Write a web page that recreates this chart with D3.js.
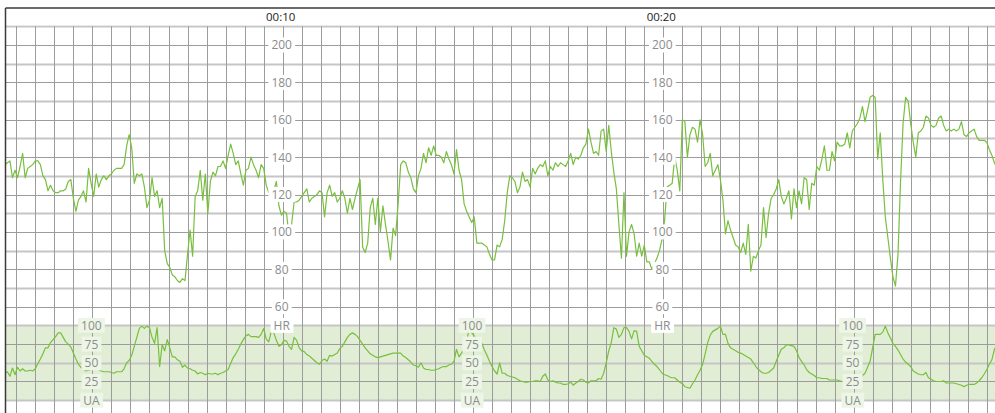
<!DOCTYPE html>
<html><head><meta charset="utf-8">
<script src="https://cdn.jsdelivr.net/npm/d3@7"></script>
<style>body{margin:0;background:#fff;} svg{display:block;font-family:"Open Sans",sans-serif;}</style>
</head><body><svg id="c" width="995" height="413"></svg>
<script>
// sample times: seconds from 00:00, one sample every 4 s
const startSec = 162, stepSec = 4;
const fhr = [
136,137,138,129,133,129,135,142,129,134,
135,136,138,138,136,130,128,122,125,122,
121,121,122,122,123,127,128,118,111,117,
119,122,116,134,126,119,131,124,128,130,
128,130,131,133,134,134,134,136,146,152,
145,126,131,130,131,124,113,117,129,119,
122,113,118,90,83,81,77,76,74,73,
75,74,88,101,87,119,122,133,117,131,
110,127,132,130,135,135,138,134,141,147,
142,136,138,131,125,133,134,140,136,133,
129,136,134,125,121,123,122,127,114,109,
111,110,98,104,116,116,117,119,121,123,
116,118,119,120,122,121,108,121,125,119,
121,116,118,122,118,110,118,112,118,123,
128,92,89,94,113,118,104,118,100,114,
104,95,85,102,98,115,136,138,137,132,
129,123,121,130,134,142,137,145,141,146,
141,141,140,137,143,139,136,131,144,133,
128,115,111,108,105,108,94,94,94,93,
92,88,85,85,93,92,96,106,121,130,
129,127,121,124,132,127,128,124,134,131,
134,136,135,138,130,135,133,137,135,137,
136,135,138,142,136,140,139,141,145,147,
155,148,142,143,141,154,155,143,157,143,
132,123,104,86,121,87,100,104,99,87,
94,87,93,84,84,80,83,86,90,96,
106,124,125,126,140,133,122,160,159,140,
152,156,155,148,160,152,135,137,142,130,
133,136,128,117,99,106,101,97,93,92,
89,94,88,104,79,87,86,90,93,113,
97,110,118,120,123,128,119,115,118,122,
107,123,113,122,115,129,128,112,126,125,
135,133,139,146,133,133,143,138,148,146,
146,147,153,145,154,156,158,161,167,159,
165,172,173,172,139,153,128,108,97,86,
76,71,88,127,158,172,170,158,148,140,
153,154,156,162,161,157,156,157,161,162,
157,154,155,154,155,154,155,159,152,151,
153,154,155,151,149,149,149,148,144,141,
137,134
];
const ua = [
36,38,32,43,34,44,39,42,39,39,
40,39,42,49,55,62,70,70,77,81,
85,90,90,84,78,75,71,63,55,48,
44,41,39,40,41,41,41,41,39,38,
38,38,37,36,38,38,38,42,50,53,
60,72,84,96,99,96,99,97,84,76,
97,45,74,66,81,70,58,58,54,52,
44,47,43,42,40,39,35,37,36,34,
36,35,35,36,34,36,37,39,41,49,
57,62,68,75,81,86,88,85,85,85,
84,88,96,82,78,92,90,80,72,74,
80,79,72,68,84,80,70,66,65,61,
59,56,53,50,48,53,55,52,60,59,
61,63,69,72,78,84,88,90,88,85,
80,75,70,66,62,60,58,57,58,59,
60,61,62,63,63,63,63,59,57,54,
51,47,46,44,50,43,41,41,40,40,
41,42,44,45,45,47,48,52,68,58,
63,70,78,96,90,86,82,79,76,67,
60,52,45,39,35,50,36,36,33,32,
31,30,28,26,25,24,24,25,25,26,
26,25,32,35,27,25,26,24,23,23,
21,21,22,24,20,23,25,28,27,24,
23,26,26,26,29,28,36,50,66,77,
97,95,84,88,97,97,92,82,93,92,
72,66,60,58,56,52,48,45,41,36,
34,33,31,30,30,27,24,22,18,17,
16,22,27,34,40,48,62,77,87,92,
94,96,99,88,88,76,70,68,66,64,
63,61,59,57,55,50,45,41,38,36,
36,37,40,43,52,60,68,70,74,74,
73,72,66,57,52,47,41,37,35,33,
30,30,29,29,29,27,27,27,27,26,
25,25,24,25,25,26,27,29,33,36,
44,52,70,88,88,88,91,99,90,83,
76,72,67,61,55,51,48,45,39,37,
35,34,34,37,30,28,26,25,25,25,
26,23,23,23,23,22,21,20,18,20,
21,21,21,23,26,30,35,41,48,54,
68,74
];
const timeTickSecs = [600, 1200];
const timeTickLabels = ["00:10", "00:20"];
const hrTicks = [200, 180, 160, 140, 120, 100, 80, 60];
const hrAxisSecs = [600, 1200];
const uaTicks = [100, 75, 50, 25];
const uaAxisSecs = [300, 900, 1500];

const W = 995, H = 413;
const L = 6, T = 26.3, TOPB = 8;
const svg = d3.select("#c");
const x = d3.scaleLinear().domain([0, 1800]).range([-97.9, 1043.9]);
const yHR = d3.scaleLinear().domain([50, 210]).range([325.4, 26.3]);
const yUA = d3.scaleLinear().domain([0, 100]).range([yHR(10), yHR(50)]);

svg.append("defs").append("clipPath").attr("id", "plot")
  .append("rect").attr("x", L).attr("y", T - 1).attr("width", W - L).attr("height", H - T + 1);

// UA band
svg.append("rect").attr("x", L).attr("y", yUA(100)).attr("width", W - L).attr("height", yUA(0) - yUA(100))
  .attr("fill", "#e1eed5");

const grid = svg.append("g").attr("clip-path", "url(#plot)");
const hLines = d3.range(210, -20, -10);
grid.selectAll("line.h").data(hLines).join("line")
  .attr("x1", L).attr("x2", W)
  .attr("y1", d => Math.round(yHR(d)) + 0.5).attr("y2", d => Math.round(yHR(d)) + 0.5)
  .attr("stroke", d => (d % 20 === 10 ? "#c6c6c6" : "#9c9c9c"))
  .attr("stroke-width", d => (d % 20 === 10 ? 2 : 1));
const vLines = d3.range(0, 1801, 30);
grid.selectAll("line.v").data(vLines).join("line")
  .attr("y1", T).attr("y2", H)
  .attr("x1", d => Math.round(x(d)) + 0.5).attr("x2", d => Math.round(x(d)) + 0.5)
  .attr("stroke", "#9c9c9c")
  .attr("stroke-width", 1);

const lineG = svg.append("g").attr("clip-path", "url(#plot)");
const tOf = i => startSec + i * stepSec;
lineG.append("path").datum(fhr)
  .attr("fill", "none").attr("stroke", "#78bf3e").attr("stroke-width", 1.2).attr("stroke-linejoin", "round")
  .attr("d", d3.line().x((d, i) => x(tOf(i))).y(d => yHR(d)));
lineG.append("path").datum(ua)
  .attr("fill", "none").attr("stroke", "#78bf3e").attr("stroke-width", 1.2).attr("stroke-linejoin", "round")
  .attr("d", d3.line().x((d, i) => x(tOf(i))).y(d => yUA(d)));

function label(g, tx, ty, txt, bg) {
  const t = g.append("text").attr("x", tx).attr("y", ty).attr("text-anchor", "middle")
    .attr("dominant-baseline", "central").attr("font-size", 12).attr("fill", "#8c8c8c").text(txt);
  const b = t.node().getBBox();
  g.insert("rect", () => t.node()).attr("x", b.x - 3).attr("y", b.y + 1).attr("width", b.width + 6).attr("height", b.height - 2)
    .attr("fill", bg);
}
const lab = svg.append("g");
hrAxisSecs.forEach(s => {
  hrTicks.forEach(v => label(lab, x(s) - 1, yHR(v), String(v), "#fff"));
  label(lab, x(s) - 1, yHR(50), "HR", "#fff");
});
uaAxisSecs.forEach(s => {
  uaTicks.forEach(v => label(lab, x(s) - 1, yUA(v), String(v), "#edf5e6"));
  label(lab, x(s) - 1, yUA(0), "UA", "#edf5e6");
});

svg.append("rect").attr("x", 0).attr("y", 0).attr("width", W).attr("height", TOPB).attr("fill", "#fff");
svg.append("line").attr("x1", L - 0.5).attr("x2", W).attr("y1", TOPB).attr("y2", TOPB).attr("stroke", "#3a3a3a").attr("stroke-width", 1.5);
svg.append("line").attr("x1", L - 0.5).attr("x2", L - 0.5).attr("y1", TOPB).attr("y2", H).attr("stroke", "#3a3a3a").attr("stroke-width", 1.5);

svg.append("g").selectAll("text").data(timeTickSecs).join("text")
  .attr("x", d => x(d) - 2).attr("y", 21).attr("text-anchor", "middle")
  .attr("font-size", 11.5).attr("fill", "#222").text((d, i) => timeTickLabels[i]);
</script></body></html>
